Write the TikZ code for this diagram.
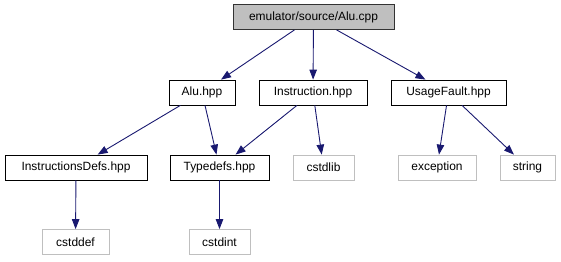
\documentclass[tikz,border=0pt]{standalone}
\usepackage{fontspec}
\setmainfont{Liberation Sans}
\usepackage{tikz}
\usetikzlibrary{arrows.meta,positioning}
\definecolor{edgeblue}{HTML}{191970}
\definecolor{sysgray}{HTML}{BFBFBF}

\begin{document}
\begin{tikzpicture}[
  x=1bp, y=-1bp,
  box/.style={rectangle, draw, line width=0.8bp, minimum height=25bp,
              inner xsep=4bp, inner ysep=0bp, font=\fontsize{12}{14}\selectfont},
  rootbox/.style={box, fill=sysgray, draw=black!80},
  hdrbox/.style={box, draw=black},
  sysbox/.style={box, draw=sysgray},
  arr/.style={-{Triangle[length=10bp,width=7.5bp]}, line width=0.9bp, edgeblue},
]
\useasboundingbox (0,0) rectangle (561,261);

% Source file
\node[rootbox, minimum width=161bp] (alucpp) at (313.5,17) {emulator/source/Alu.cpp};

% First level headers
\node[hdrbox, minimum width=66bp] (aluhpp) at (202,92.5) {Alu.hpp};
\node[hdrbox, minimum width=108bp] (instr) at (313,92.5) {Instruction.hpp};
\node[hdrbox, minimum width=115bp] (usage) at (448.5,92.5) {UsageFault.hpp};

% Second level
\node[hdrbox, minimum width=142bp] (idefs) at (76,167.5) {InstructionsDefs.hpp};
\node[hdrbox, minimum width=99bp] (typedefs) at (219.5,167.5) {Typedefs.hpp};
\node[sysbox, minimum width=61bp] (cstdlib) at (323.5,167.5) {cstdlib};
\node[sysbox, minimum width=78bp] (exception) at (437,167.5) {exception};
\node[sysbox, minimum width=55bp] (string) at (527.5,167.5) {string};

% Third level
\node[sysbox, minimum width=67bp] (cstddef) at (75.5,242) {cstddef};
\node[sysbox, minimum width=61bp] (cstdint) at (219.5,242) {cstdint};

% Includes
\draw[arr] (alucpp) -- (aluhpp);
\draw[arr] (alucpp) -- (instr);
\draw[arr] (alucpp) -- (usage);
\draw[arr] (aluhpp) -- (idefs);
\draw[arr] (aluhpp) -- (typedefs);
\draw[arr] (instr) -- (typedefs);
\draw[arr] (instr) -- (cstdlib);
\draw[arr] (usage) -- (exception);
\draw[arr] (usage) -- (string);
\draw[arr] (idefs) -- (cstddef);
\draw[arr] (typedefs) -- (cstdint);

\end{tikzpicture}
\end{document}
